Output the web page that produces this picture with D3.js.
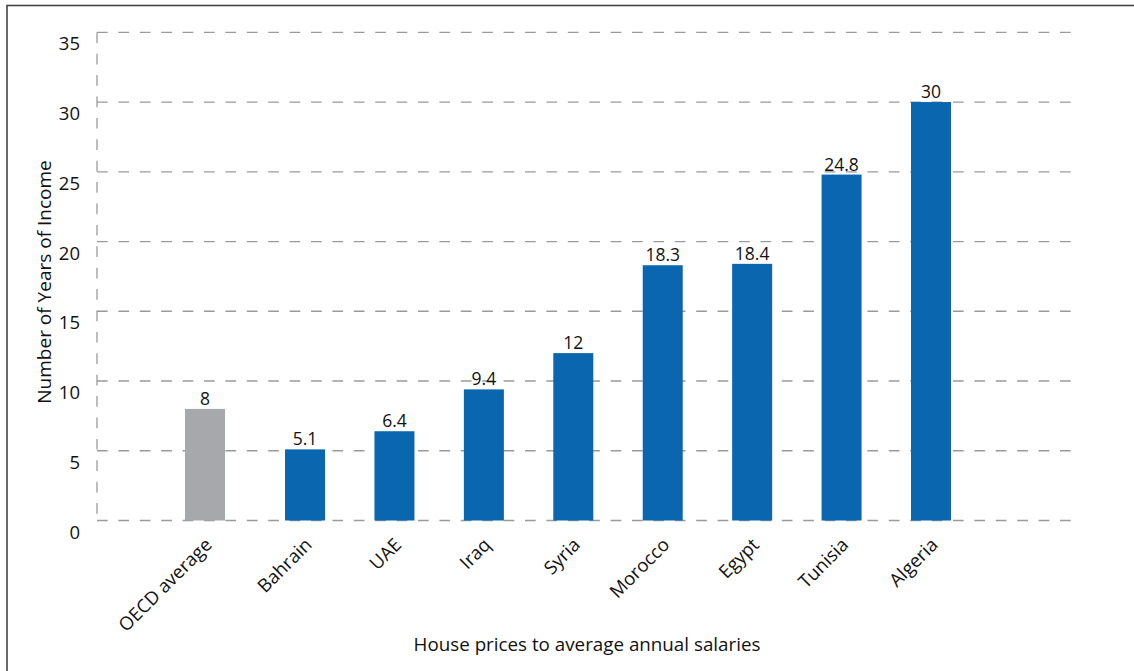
<!DOCTYPE html>
<html><head><meta charset="utf-8">
<script src="https://cdn.jsdelivr.net/npm/d3@7"></script>
<style>
html,body{margin:0;padding:0;background:#fff;}
svg{display:block;font-family:"Open Sans","Noto Sans",sans-serif;}
</style></head>
<body><svg id="c" width="1134" height="671"></svg>
<script>
const categories = ["OECD average","Bahrain","UAE","Iraq","Syria","Morocco","Egypt","Tunisia","Algeria"];
const values = [8, 5.1, 6.4, 9.4, 12, 18.3, 18.4, 24.8, 30];
const valueLabels = ["8","5.1","6.4","9.4","12","18.3","18.4","24.8","30"];
const yTicks = [0,5,10,15,20,25,30,35];
const yTitle = "Number of Years of Income";
const xTitle = "House prices to average annual salaries";

(function(){
const svg = d3.select("#c");
svg.append("rect").attr("x",7).attr("y",5.5).attr("width",1140).attr("height",700)
  .attr("fill","none").attr("stroke","#444").attr("stroke-width",1.6);

const pL=97, pR=1078, pT=32.3, pB=520.5;
const y = d3.scaleLinear().domain([0,35]).range([pB, pT]);
const x = d3.scalePoint().domain(categories).range([215.6, 931]);
const gapFirst = 10.6;
const cx = d => x(d) - (d===categories[0] ? gapFirst : 0);
const bw = 40;

const g = svg.append("g");
g.selectAll("line.grid").data(yTicks).join("line")
  .attr("x1",pL).attr("x2",pR)
  .attr("y1",d=>y(d)).attr("y2",d=>y(d))
  .attr("stroke","#9a9a9a").attr("stroke-width",1.3)
  .attr("stroke-dasharray","10.7,10.7");
g.append("line").attr("x1",pL).attr("x2",pL).attr("y1",pT).attr("y2",pB)
  .attr("stroke","#9a9a9a").attr("stroke-width",1.3).attr("stroke-dasharray","10.7,10.7");

g.selectAll("text.yt").data(yTicks).join("text")
  .attr("x",80).attr("y",d=>y(d)+18).attr("text-anchor","end")
  .attr("font-size",18.5).attr("fill","#111").text(d=>d);

g.selectAll("rect.bar").data(categories).join("rect")
  .attr("x",d=>cx(d)-bw/2).attr("width",bw)
  .attr("y",(d,i)=>y(values[i])).attr("height",(d,i)=>y(0)-y(values[i]))
  .attr("fill",(d,i)=>i===0?"#a7a8ac":"#0b66b0");

g.selectAll("text.vl").data(categories).join("text")
  .attr("x",d=>cx(d)).attr("y",(d,i)=>y(values[i])-4)
  .attr("text-anchor","middle").attr("font-size",17.5).attr("fill","#111")
  .text((d,i)=>valueLabels[i]);

g.selectAll("text.xl").data(categories).join("text")
  .attr("transform",d=>`translate(${cx(d)+8},${546}) rotate(-45)`)
  .attr("text-anchor","end").attr("font-size",18.5).attr("fill","#111")
  .text(d=>d);

svg.append("text").attr("transform","translate(51,282) rotate(-90)")
  .attr("text-anchor","middle").attr("font-size",19).attr("fill","#111").text(yTitle);
svg.append("text").attr("x",587).attr("y",651)
  .attr("text-anchor","middle").attr("font-size",18.8).attr("fill","#111").text(xTitle);
})();
</script></body></html>
